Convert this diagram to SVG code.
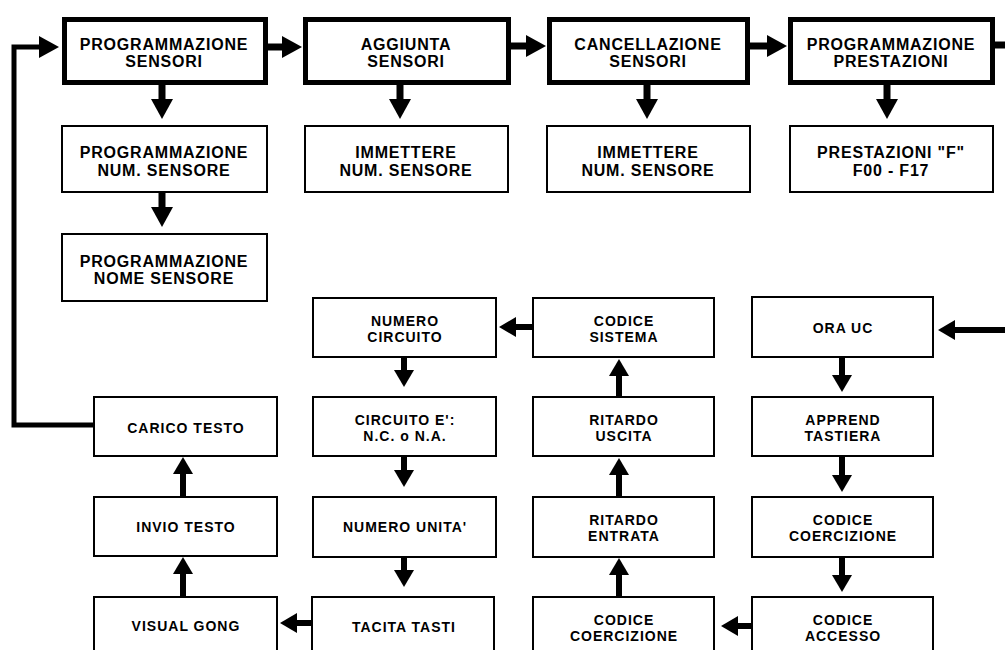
<svg xmlns="http://www.w3.org/2000/svg" width="1005" height="650" viewBox="0 0 1005 650">
  <defs>
    <style>
      .bg { fill: #ffffff; }
      .main { fill: #ffffff; stroke: #000; stroke-width: 5; }
      .sub { fill: #ffffff; stroke: #000; stroke-width: 2; }
      .t16 { font-family: "Liberation Sans", Arial, sans-serif; font-weight: bold; font-size: 16px; letter-spacing: 0.8px; text-anchor: middle; fill: #000; }
      .t14 { font-family: "Liberation Sans", Arial, sans-serif; font-weight: bold; font-size: 14px; letter-spacing: 1px; text-anchor: middle; fill: #000; }
      .heavy { fill: none; stroke: #000; stroke-width: 7; }
      .light { fill: none; stroke: #000; stroke-width: 6; }
      .feed { fill: none; stroke: #000; stroke-width: 5; }
    </style>
    <marker id="headL" viewBox="0 0 20 22" refX="1" refY="11" markerWidth="20" markerHeight="22" markerUnits="userSpaceOnUse" orient="auto">
      <path d="M0,0 L20,11 L0,22 Z" fill="#000"/>
    </marker>
    <marker id="headS" viewBox="0 0 17 20" refX="1" refY="10" markerWidth="17" markerHeight="20" markerUnits="userSpaceOnUse" orient="auto">
      <path d="M0,0 L17,10 L0,20 Z" fill="#000"/>
    </marker>
  </defs>
  <rect class="bg" x="0" y="0" width="1005" height="650"/>

  <g id="connectors">
    <path class="feed" d="M94,425 H14 V47 H40" marker-end="url(#headL)"/>
    <path class="heavy" d="M268,47 H283" marker-end="url(#headL)"/>
    <path class="heavy" d="M511,46 H527" marker-end="url(#headL)"/>
    <path class="heavy" d="M750,46 H768" marker-end="url(#headL)"/>
    <path class="heavy" d="M995,45 H1010"/>
    <path class="heavy" d="M162,85 V100" marker-end="url(#headL)"/>
    <path class="heavy" d="M400,85 V100" marker-end="url(#headL)"/>
    <path class="heavy" d="M647,85 V100" marker-end="url(#headL)"/>
    <path class="heavy" d="M887,85 V100" marker-end="url(#headL)"/>
    <path class="heavy" d="M162,192 V208" marker-end="url(#headL)"/>

    <path class="light" d="M533,327 H515" marker-end="url(#headS)"/>
    <path class="light" d="M404,357 V371" marker-end="url(#headS)"/>
    <path class="light" d="M404,456 V471" marker-end="url(#headS)"/>
    <path class="light" d="M404,557 V571" marker-end="url(#headS)"/>
    <path class="light" d="M312,623 H296" marker-end="url(#headS)"/>
    <path class="light" d="M183,597 V573" marker-end="url(#headS)"/>
    <path class="light" d="M183,497 V473" marker-end="url(#headS)"/>
    <path class="light" d="M619,597 V574" marker-end="url(#headS)"/>
    <path class="light" d="M619,497 V474" marker-end="url(#headS)"/>
    <path class="light" d="M619,397 V375" marker-end="url(#headS)"/>
    <path class="light" d="M842,357 V376" marker-end="url(#headS)"/>
    <path class="light" d="M842,456 V476" marker-end="url(#headS)"/>
    <path class="light" d="M842,557 V576" marker-end="url(#headS)"/>
    <path class="light" d="M752,626 H737" marker-end="url(#headS)"/>
    <path class="light" d="M1010,330 H954" marker-end="url(#headS)"/>
  </g>

  <g id="prog-sensori">
    <rect class="main" x="64.5" y="19.5" width="201" height="63"/>
    <text class="t16" x="164" y="50">PROGRAMMAZIONE</text>
    <text class="t16" x="164" y="67">SENSORI</text>
  </g>
  <g id="aggiunta-sensori">
    <rect class="main" x="305.5" y="19.5" width="203" height="63"/>
    <text class="t16" x="406" y="50">AGGIUNTA</text>
    <text class="t16" x="406" y="67">SENSORI</text>
  </g>
  <g id="cancellazione-sensori">
    <rect class="main" x="549.5" y="19.5" width="198" height="63"/>
    <text class="t16" x="648" y="50">CANCELLAZIONE</text>
    <text class="t16" x="648" y="67">SENSORI</text>
  </g>
  <g id="prog-prestazioni">
    <rect class="main" x="790.5" y="19.5" width="202" height="63"/>
    <text class="t16" x="891" y="50">PROGRAMMAZIONE</text>
    <text class="t16" x="891" y="67">PRESTAZIONI</text>
  </g>

  <g id="prog-num-sensore">
    <rect class="sub" x="62" y="126" width="205" height="66"/>
    <text class="t16" x="164" y="158">PROGRAMMAZIONE</text>
    <text class="t16" x="164" y="176">NUM. SENSORE</text>
  </g>
  <g id="immettere-1">
    <rect class="sub" x="305" y="126" width="203" height="66"/>
    <text class="t16" x="406" y="158">IMMETTERE</text>
    <text class="t16" x="406" y="176">NUM. SENSORE</text>
  </g>
  <g id="immettere-2">
    <rect class="sub" x="547" y="126" width="203" height="66"/>
    <text class="t16" x="648" y="158">IMMETTERE</text>
    <text class="t16" x="648" y="176">NUM. SENSORE</text>
  </g>
  <g id="prestazioni-f">
    <rect class="sub" x="790" y="126" width="203" height="66"/>
    <text class="t16" x="891" y="158">PRESTAZIONI "F"</text>
    <text class="t16" x="891" y="176">F00 - F17</text>
  </g>
  <g id="prog-nome-sensore">
    <rect class="sub" x="62" y="234" width="205" height="67"/>
    <text class="t16" x="164" y="267">PROGRAMMAZIONE</text>
    <text class="t16" x="164" y="284">NOME SENSORE</text>
  </g>

  <g id="numero-circuito">
    <rect class="sub" x="313" y="298" width="183" height="59"/>
    <text class="t14" x="405" y="326">NUMERO</text>
    <text class="t14" x="405" y="342">CIRCUITO</text>
  </g>
  <g id="codice-sistema">
    <rect class="sub" x="533" y="298" width="181" height="59"/>
    <text class="t14" x="624" y="326">CODICE</text>
    <text class="t14" x="624" y="342">SISTEMA</text>
  </g>
  <g id="ora-uc">
    <rect class="sub" x="752" y="297" width="181" height="60"/>
    <text class="t14" x="843" y="333">ORA UC</text>
  </g>

  <g id="carico-testo">
    <rect class="sub" x="94" y="397" width="183" height="59"/>
    <text class="t14" x="186" y="433">CARICO TESTO</text>
  </g>
  <g id="circuito-e">
    <rect class="sub" x="313" y="397" width="183" height="59"/>
    <text class="t14" x="405" y="425">CIRCUITO E':</text>
    <text class="t14" x="405" y="441">N.C. o N.A.</text>
  </g>
  <g id="ritardo-uscita">
    <rect class="sub" x="533" y="397" width="181" height="59"/>
    <text class="t14" x="624" y="425">RITARDO</text>
    <text class="t14" x="624" y="441">USCITA</text>
  </g>
  <g id="apprend-tastiera">
    <rect class="sub" x="752" y="397" width="181" height="59"/>
    <text class="t14" x="843" y="425">APPREND</text>
    <text class="t14" x="843" y="441">TASTIERA</text>
  </g>

  <g id="invio-testo">
    <rect class="sub" x="94" y="497" width="183" height="59"/>
    <text class="t14" x="186" y="532">INVIO TESTO</text>
  </g>
  <g id="numero-unita">
    <rect class="sub" x="313" y="497" width="183" height="60"/>
    <text class="t14" x="405" y="532">NUMERO UNITA'</text>
  </g>
  <g id="ritardo-entrata">
    <rect class="sub" x="533" y="497" width="181" height="60"/>
    <text class="t14" x="624" y="525">RITARDO</text>
    <text class="t14" x="624" y="541">ENTRATA</text>
  </g>
  <g id="codice-coercizione-1">
    <rect class="sub" x="752" y="497" width="181" height="60"/>
    <text class="t14" x="843" y="525">CODICE</text>
    <text class="t14" x="843" y="541">COERCIZIONE</text>
  </g>

  <g id="visual-gong">
    <rect class="sub" x="94" y="597" width="183" height="70"/>
    <text class="t14" x="186" y="631">VISUAL GONG</text>
  </g>
  <g id="tacita-tasti">
    <rect class="sub" x="312" y="597" width="182" height="70"/>
    <text class="t14" x="404" y="632">TACITA TASTI</text>
  </g>
  <g id="codice-coercizione-2">
    <rect class="sub" x="533" y="597" width="181" height="70"/>
    <text class="t14" x="624" y="625">CODICE</text>
    <text class="t14" x="624" y="641">COERCIZIONE</text>
  </g>
  <g id="codice-accesso">
    <rect class="sub" x="752" y="597" width="181" height="70"/>
    <text class="t14" x="843" y="625">CODICE</text>
    <text class="t14" x="843" y="641">ACCESSO</text>
  </g>
</svg>
